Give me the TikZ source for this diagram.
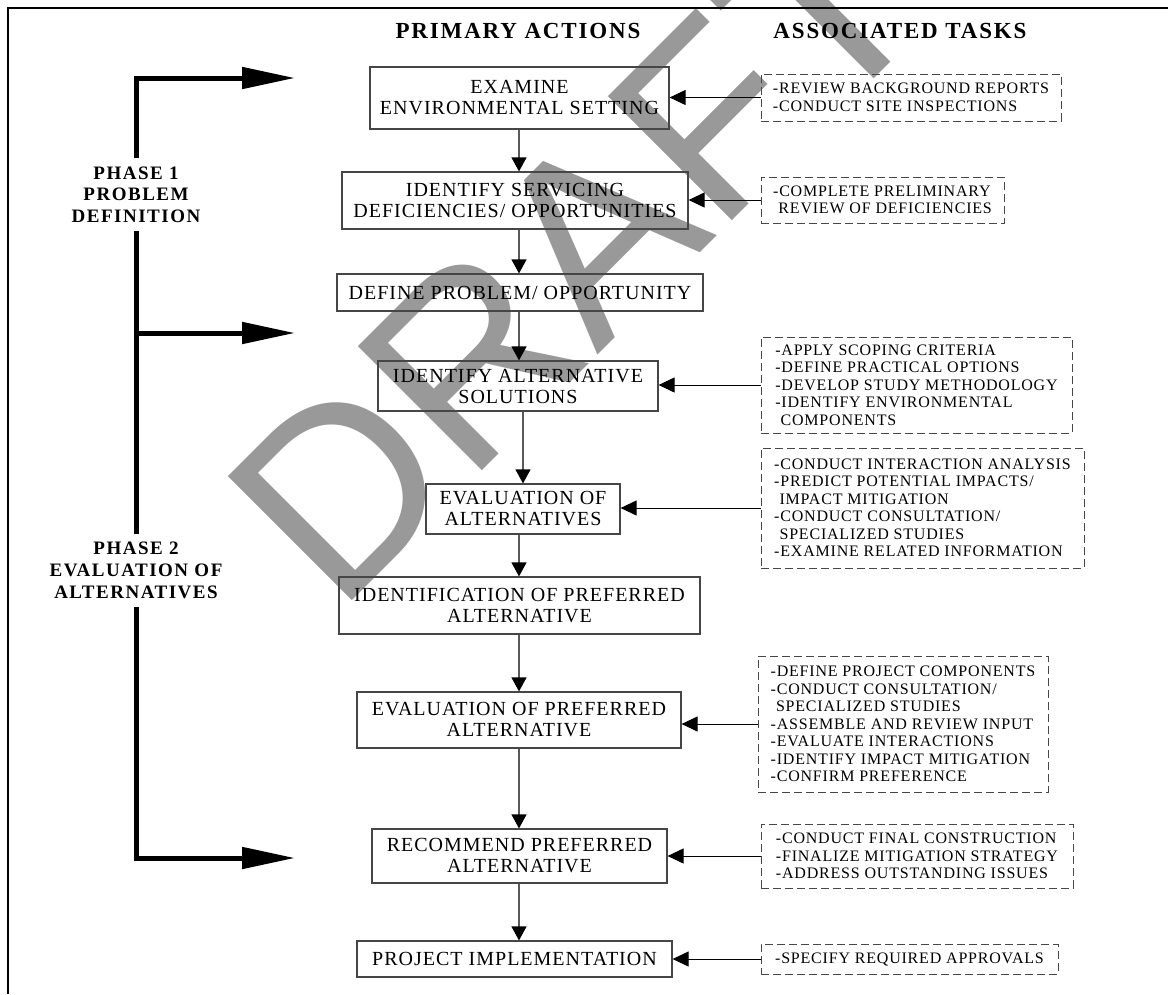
\documentclass[tikz,border=0pt]{standalone}
\usepackage{fontspec}
\setmainfont{Liberation Serif}
\newfontfamily\spacedserif{Liberation Serif}[LetterSpace=5]
\newfontfamily\widebold{Liberation Serif}[LetterSpace=8]
\newfontfamily\draftfont{Liberation Sans}
\usepackage{tikz}
\usetikzlibrary{arrows.meta,positioning,calc}
\usepackage{xcolor}
\definecolor{boxgray}{RGB}{70,70,70}
\definecolor{flowgray}{RGB}{90,90,90}
\definecolor{draftgray}{RGB}{153,153,153}
\begin{document}
\begin{tikzpicture}[
    x=1pt, y=-1pt,
    actbox/.style={rectangle, draw=boxgray, line width=1.2pt, align=center,
        font=\spacedserif\fontsize{20}{21}\selectfont, inner sep=0pt},
    taskbox/.style={rectangle, draw=boxgray, line width=1pt,
        dash pattern=on 8pt off 4pt, align=left,
        font=\spacedserif\fontsize{16}{17.5}\selectfont, inner sep=0pt},
    phaselbl/.style={align=center, inner sep=8pt,
        font=\widebold\bfseries\fontsize{19}{21.7}\selectfont},
    colhead/.style={font=\widebold\bfseries\fontsize{23}{26}\selectfont},
    flow/.style={draw=flowgray, line width=1.2pt,
        -{Triangle[length=14pt,width=15pt,color=black]}},
    feed/.style={line width=1pt, -{Triangle[length=16pt,width=15pt]}},
    phase/.style={line width=5pt},
    phasearrow/.style={phase, -{Triangle[length=53pt,width=21pt]}}
]
\useasboundingbox (0,0) rectangle (1168,994);
\node[anchor=base west, rotate=45, inner sep=0pt, text=draftgray,
      font=\draftfont\fontsize{255}{255}\selectfont] (draft) at (337,616) {DRAFT};
\draw[line width=2pt] (8,994) -- (8,8) -- (1168,8);

\node[colhead] (primhead) at (518,31) {PRIMARY ACTIONS};
\node[colhead] (taskhead) at (900,31) {ASSOCIATED TASKS};

\node[actbox, minimum width=299pt, minimum height=62pt] (exam) at (519.5,98)
    {EXAMINE\\ENVIRONMENTAL SETTING};
\node[actbox, minimum width=346pt, minimum height=57pt] (serv) at (515,200.5)
    {IDENTIFY SERVICING\\DEFICIENCIES/ OPPORTUNITIES};
\node[actbox, minimum width=366pt, minimum height=37pt] (defprob) at (520,292.5)
    {DEFINE PROBLEM/ OPPORTUNITY};
\node[actbox, minimum width=280pt, minimum height=50pt] (altsol) at (518,386)
    {IDENTIFY ALTERNATIVE\\SOLUTIONS};
\node[actbox, minimum width=194pt, minimum height=50pt] (evalalt) at (523,509)
    {EVALUATION OF\\ALTERNATIVES};
\node[actbox, minimum width=361pt, minimum height=57pt] (idpref) at (519.5,605.5)
    {IDENTIFICATION OF PREFERRED\\ALTERNATIVE};
\node[actbox, minimum width=324pt, minimum height=56pt] (evalpref) at (519,720)
    {EVALUATION OF PREFERRED\\ALTERNATIVE};
\node[actbox, minimum width=295pt, minimum height=54pt] (recpref) at (519.5,856)
    {RECOMMEND PREFERRED\\ALTERNATIVE};
\node[actbox, minimum width=315pt, minimum height=36pt] (impl) at (514.5,959)
    {PROJECT IMPLEMENTATION};

\node[taskbox, minimum width=300pt, minimum height=47pt] (t1) at (911,97.5)
    {-REVIEW BACKGROUND REPORTS\\-CONDUCT SITE INSPECTIONS};
\node[taskbox, minimum width=243pt, minimum height=46pt] (t2) at (882.5,200)
    {-COMPLETE PRELIMINARY\\\phantom{-}REVIEW OF DEFICIENCIES};
\node[taskbox, minimum width=311pt, minimum height=96pt] (t3) at (916.5,385)
    {-APPLY SCOPING CRITERIA\\-DEFINE PRACTICAL OPTIONS\\-DEVELOP STUDY METHODOLOGY\\
     -IDENTIFY ENVIRONMENTAL\\\phantom{-}COMPONENTS};
\node[taskbox, minimum width=323pt, minimum height=120pt] (t4) at (922.5,508)
    {-CONDUCT INTERACTION ANALYSIS\\-PREDICT POTENTIAL IMPACTS/\\\phantom{-}IMPACT MITIGATION\\
     -CONDUCT CONSULTATION/\\\phantom{-}SPECIALIZED STUDIES\\-EXAMINE RELATED INFORMATION};
\node[taskbox, minimum width=290pt, minimum height=136pt] (t5) at (903,724)
    {-DEFINE PROJECT COMPONENTS\\-CONDUCT CONSULTATION/\\\phantom{-}SPECIALIZED STUDIES\\
     -ASSEMBLE AND REVIEW INPUT\\-EVALUATE INTERACTIONS\\-IDENTIFY IMPACT MITIGATION\\
     -CONFIRM PREFERENCE};
\node[taskbox, minimum width=312pt, minimum height=64pt] (t6) at (917,856)
    {-CONDUCT FINAL CONSTRUCTION\\-FINALIZE MITIGATION STRATEGY\\-ADDRESS OUTSTANDING ISSUES};
\node[taskbox, minimum width=297pt, minimum height=30pt] (t7) at (909.5,959)
    {-SPECIFY REQUIRED APPROVALS};

\coordinate (spine) at (519,0);
\draw[flow] (exam.south -| spine) -- (serv.north -| spine);
\draw[flow] (serv.south -| spine) -- (defprob.north -| spine);
\draw[flow] (defprob.south -| spine) -- (altsol.north -| spine);
\draw[flow] (altsol.south -| evalalt.north) -- (evalalt.north);
\draw[flow] (evalalt.south -| spine) -- (idpref.north -| spine);
\draw[flow] (idpref.south -| spine) -- (evalpref.north -| spine);
\draw[flow] (evalpref.south -| spine) -- (recpref.north -| spine);
\draw[flow] (recpref.south -| spine) -- (impl.north -| spine);

\draw[feed] (t1.west) -- (t1.west -| exam.east);
\draw[feed] (t2.west) -- (t2.west -| serv.east);
\draw[feed] (t3.west) -- (t3.west -| altsol.east);
\draw[feed] (t4.west) -- (t4.west -| evalalt.east);
\draw[feed] (t5.west) -- (t5.west -| evalpref.east);
\draw[feed] (t6.west) -- (t6.west -| recpref.east);
\draw[feed] (t7.west) -- (t7.west -| impl.east);

\node[phaselbl] (ph1) at (136,194.5) {PHASE 1\\PROBLEM\\DEFINITION};
\node[phaselbl] (ph2) at (136,570.5) {PHASE 2\\EVALUATION OF\\ALTERNATIVES};
\coordinate (tip1) at (295,78);
\coordinate (tip2) at (295,333);
\coordinate (tip3) at (295,858);
\draw[phasearrow] (ph1.north) |- (tip1);
\draw[phase] (ph1.south) -- (ph2.north);
\draw[phasearrow] (ph1.south |- tip2) -- (tip2);
\draw[phasearrow] (ph2.south) |- (tip3);
\end{tikzpicture}
\end{document}
